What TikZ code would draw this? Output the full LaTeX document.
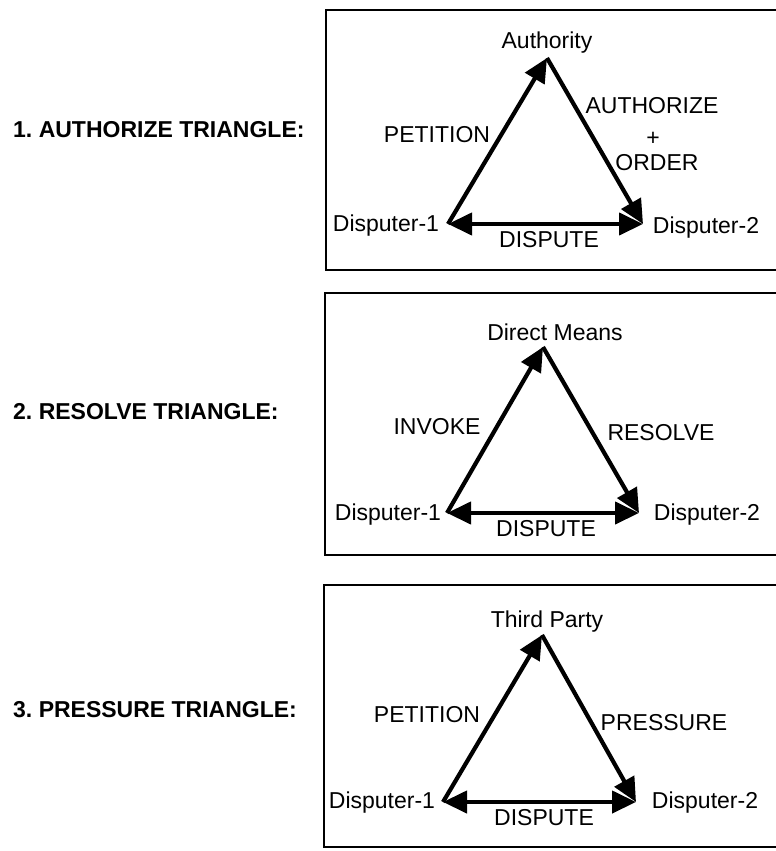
\documentclass[tikz,border=0pt]{standalone}
\usepackage{fontspec}
\setmainfont{Liberation Sans}
\usetikzlibrary{arrows.meta}
\frenchspacing
\begin{document}
\begin{tikzpicture}[x=1pt,y=-1pt,
  every node/.style={inner sep=0pt, font=\fontsize{23}{27}\selectfont},
  title/.style={anchor=west, font=\fontsize{23}{27}\selectfont\bfseries},
  frame/.style={line width=2.4pt},
  link/.style={line width=4.2pt, -{Triangle[length=24pt,width=22pt]}},
  twoway/.style={line width=4.2pt, {Triangle[length=24pt,width=22pt]}-{Triangle[length=24pt,width=22pt]}}]
\useasboundingbox (0,0) rectangle (776,851);

% ---------- 1. Authorize triangle ----------
\node[title] (t1) at (13,130) {1. AUTHORIZE TRIANGLE:};
\draw[frame] (780,10) -- (326,10) -- (326,270) -- (780,270);
\coordinate (a1) at (547,58);
\coordinate (l1) at (448,224);
\coordinate (r1) at (643,224);
\node (na1) at (547,43) {Authority};
\node (nl1) at (386,226) {Disputer-1};
\node (nr1) at (706,228) {Disputer-2};
\node (ea1) at (437,135) {PETITION};
\node (eb1) at (652,106) {AUTHORIZE};
\node (ec1) at (653,139) {+};
\node (ed1) at (657,163) {ORDER};
\node (ee1) at (549,240) {DISPUTE};
\draw[link] (l1) -- (a1);
\draw[link] (a1) -- (r1);
\draw[twoway] (l1) -- (r1);

% ---------- 2. Resolve triangle ----------
\node[title] (t2) at (13,412) {2. RESOLVE TRIANGLE:};
\draw[frame] (780,293) -- (325,293) -- (325,555) -- (780,555);
\coordinate (a2) at (543,347);
\coordinate (l2) at (447,513);
\coordinate (r2) at (639,513);
\node (na2) at (555,332) {Direct Means};
\node (nl2) at (388,515) {Disputer-1};
\node (nr2) at (707,515) {Disputer-2};
\node (ea2) at (437,427) {INVOKE};
\node (eb2) at (661,433) {RESOLVE};
\node (ee2) at (546,529) {DISPUTE};
\draw[link] (l2) -- (a2);
\draw[link] (a2) -- (r2);
\draw[twoway] (l2) -- (r2);

% ---------- 3. Pressure triangle ----------
\node[title] (t3) at (13,710) {3. PRESSURE TRIANGLE:};
\draw[frame] (780,585) -- (324,585) -- (324,847) -- (780,847);
\coordinate (a3) at (542,635);
\coordinate (l3) at (443,802);
\coordinate (r3) at (636,802);
\node (na3) at (547,622) {Third Party};
\node (nl3) at (382,803) {Disputer-1};
\node (nr3) at (705,803) {Disputer-2};
\node (ea3) at (427,715) {PETITION};
\node (eb3) at (664,723) {PRESSURE};
\node (ee3) at (544,818) {DISPUTE};
\draw[link] (l3) -- (a3);
\draw[link] (a3) -- (r3);
\draw[twoway] (l3) -- (r3);
\end{tikzpicture}
\end{document}
